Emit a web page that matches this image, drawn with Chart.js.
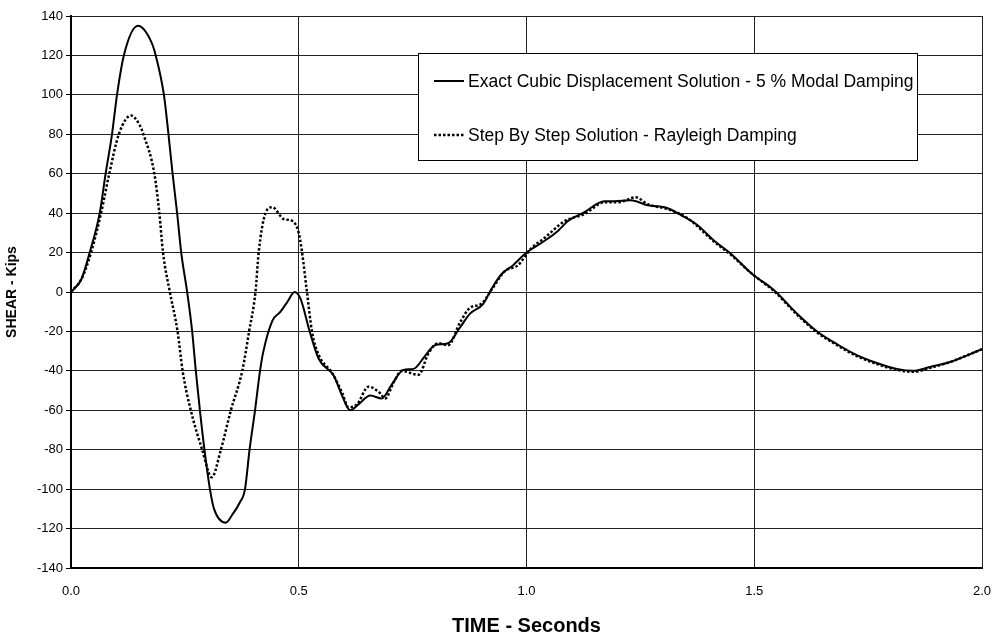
<!DOCTYPE html>
<html><head><meta charset="utf-8">
<script src="https://cdn.jsdelivr.net/npm/chart.js@4/dist/chart.umd.min.js"></script>
<style>html,body{margin:0;padding:0;background:#fff;}#wrap{width:998px;height:633px;}</style>
</head><body><div id="wrap"><canvas id="c" width="998" height="633"></canvas></div>
<script>
const seriesLabels = ["Exact Cubic Displacement Solution - 5 % Modal Damping", "Step By Step Solution - Rayleigh Damping"];
const xTickValues = [0.0, 0.5, 1.0, 1.5, 2.0];
const timeExact = [0, 0.023, 0.041, 0.063, 0.076, 0.090, 0.101, 0.116, 0.147, 0.176, 0.186, 0.204, 0.214, 0.223, 0.233, 0.242, 0.255, 0.266, 0.274, 0.283, 0.293, 0.305, 0.314, 0.340, 0.354, 0.370, 0.382, 0.392, 0.404, 0.415, 0.422, 0.442, 0.460, 0.475, 0.491, 0.504, 0.524, 0.544, 0.577, 0.595, 0.613, 0.631, 0.657, 0.682, 0.704, 0.730, 0.752, 0.777, 0.799, 0.828, 0.854, 0.876, 0.905, 0.923, 0.945, 0.970, 1.000, 1.040, 1.069, 1.091, 1.127, 1.171, 1.193, 1.229, 1.266, 1.310, 1.339, 1.375, 1.412, 1.448, 1.496, 1.543, 1.594, 1.638, 1.682, 1.725, 1.769, 1.813, 1.849, 1.886, 1.930, 2.000];
const shearExact = [0, 6.6, 20, 40, 60, 80, 100, 120, 135, 127, 120, 100, 80, 60, 40, 20, 0, -20, -40, -60, -80, -100, -110, -117, -113, -107, -100, -80, -60, -40, -30.5, -14.6, -10, -5, 0, -3.5, -20, -34, -42.5, -52.5, -60, -57, -52.5, -54, -47, -39.5, -39, -32.5, -27, -26, -18, -11, -6, 1.5, 9, 13.5, 20, 26, 31, 36, 40.5, 46, 46, 46.5, 44, 42.5, 39, 34, 26, 19.5, 9, 1, -11, -20, -26.5, -32, -36, -39, -40, -38, -35.5, -29];
const timeStep = [0, 0.023, 0.044, 0.066, 0.084, 0.105, 0.132, 0.150, 0.159, 0.183, 0.194, 0.202, 0.217, 0.234, 0.245, 0.263, 0.288, 0.309, 0.329, 0.351, 0.376, 0.391, 0.405, 0.412, 0.427, 0.442, 0.467, 0.486, 0.500, 0.507, 0.518, 0.529, 0.544, 0.573, 0.595, 0.609, 0.628, 0.653, 0.675, 0.690, 0.708, 0.726, 0.763, 0.785, 0.806, 0.828, 0.854, 0.876, 0.901, 0.923, 0.952, 0.981, 1.010, 1.040, 1.084, 1.127, 1.171, 1.200, 1.240, 1.266, 1.310, 1.353, 1.412, 1.448, 1.496, 1.543, 1.594, 1.638, 1.682, 1.725, 1.769, 1.813, 1.849, 1.886, 1.930, 2.000];
const shearStep = [0, 6.6, 20, 40, 60, 80, 89.5, 85, 80, 60, 40, 20, 0, -20, -40, -60, -80, -94, -80, -60, -40, -20, 0, 20, 40, 43, 37, 36, 30, 20.5, 0, -20, -32, -41, -51, -58.5, -57, -48, -50.5, -54, -46, -40, -42, -31, -26, -27, -15.5, -8, -6, 1, 10.5, 13.5, 22, 27.5, 36, 39.5, 45.5, 45.5, 48, 44.5, 42, 37.5, 25.5, 19, 9, 0.5, -11.5, -20.5, -27, -32.5, -36.5, -39.5, -40.5, -38.5, -35.5, -29];

const toPts = (xs, ys) => xs.map((x, i) => ({x: x, y: ys[i]}));
const FONT = '"Liberation Sans", Arial, sans-serif';

const legendBox = {
  id: 'legendBox',
  afterDraw(chart) {
    const ctx = chart.ctx;
    ctx.save();
    ctx.fillStyle = '#fff';
    ctx.fillRect(418.5, 53.5, 499, 107);
    ctx.strokeStyle = '#000';
    ctx.lineWidth = 1;
    ctx.strokeRect(418.5, 53.5, 499, 107);
    ctx.font = '17.5px ' + FONT;
    ctx.fillStyle = '#000';
    ctx.textBaseline = 'middle';
    const rows = [81, 135];
    chart.data.datasets.forEach((ds, i) => {
      ctx.beginPath();
      ctx.setLineDash(ds.borderDash || []);
      ctx.lineWidth = ds.borderWidth;
      ctx.strokeStyle = '#000';
      ctx.moveTo(434, rows[i]);
      ctx.lineTo(464, rows[i]);
      ctx.stroke();
      ctx.setLineDash([]);
      ctx.fillText(ds.label, 468, rows[i] + 1);
    });
    ctx.restore();
  }
};

new Chart(document.getElementById('c'), {
  type: 'line',
  data: {
    datasets: [
      {label: seriesLabels[0], data: toPts(timeExact, shearExact), borderColor: '#000', borderWidth: 2, pointRadius: 0, cubicInterpolationMode: 'monotone', fill: false},
      {label: seriesLabels[1], data: toPts(timeStep, shearStep), borderColor: '#000', borderWidth: 2.5, borderDash: [2.5, 2], pointRadius: 0, cubicInterpolationMode: 'monotone', fill: false}
    ]
  },
  options: {
    responsive: false,
    animation: false,
    layout: {padding: {top: 16, right: 16, left: 0, bottom: 0}},
    plugins: {legend: {display: false}, tooltip: {enabled: false}},
    scales: {
      x: {
        type: 'linear', min: 0, max: 2,
        afterBuildTicks: (s) => { s.ticks = xTickValues.map(v => ({value: v})); },
        afterFit: (s) => { s.height = 65; s.paddingRight = 0; s.paddingLeft = 0; },
        ticks: {callback: (v) => Number(v).toFixed(1), color: '#000', font: {family: FONT, size: 13}, padding: 16, maxRotation: 0},
        grid: {color: '#222', lineWidth: 1, drawTicks: false},
        border: {color: '#000', width: 2},
        title: {display: true, text: 'TIME - Seconds', color: '#000', font: {family: FONT, size: 20, weight: 'bold'}, padding: {top: 0, bottom: -5}}
      },
      y: {
        min: -140, max: 140,
        ticks: {stepSize: 20, color: '#000', font: {family: FONT, size: 13}, padding: 3},
        afterFit: (s) => { s.width = 71; s.paddingTop = 0; s.paddingBottom = 0; },
        grid: {color: '#222', lineWidth: 1, tickLength: 5, tickColor: '#000'},
        border: {color: '#000', width: 2},
        title: {display: true, text: 'SHEAR - Kips', color: '#000', font: {family: FONT, size: 14, weight: 'bold'}, padding: {top: 4, bottom: 0}}
      }
    }
  },
  plugins: [legendBox]
});
</script>
</body></html>
